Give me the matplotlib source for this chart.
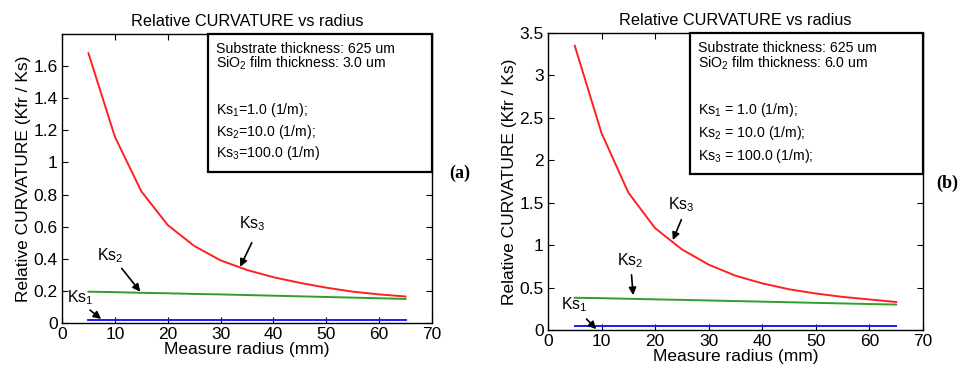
import matplotlib
matplotlib.use("Agg")
import matplotlib.pyplot as plt
from matplotlib.patches import Rectangle

plt.rcParams["font.family"] = ["Liberation Sans", "DejaVu Sans"]
plt.rcParams["mathtext.fontset"] = "custom"
plt.rcParams["mathtext.rm"] = "Liberation Sans"
plt.rcParams["mathtext.it"] = "Liberation Sans"
plt.rcParams["font.size"] = 10

# measure radius (mm)
radius = [5, 10, 15, 20, 25, 30, 35, 40, 45, 50, 55, 60, 65]

# panel (a): SiO2 film 3.0 um
ks3_a = [1.68, 1.16, 0.82, 0.61, 0.48, 0.39, 0.33, 0.285, 0.25, 0.22, 0.195, 0.178, 0.165]
ks2_a = [0.195, 0.192, 0.188, 0.185, 0.181, 0.178, 0.174, 0.170, 0.166, 0.162, 0.158, 0.154, 0.150]
ks1_a = [0.02] * 13

# panel (b): SiO2 film 6.0 um
ks3_b = [3.35, 2.32, 1.62, 1.20, 0.95, 0.77, 0.64, 0.55, 0.48, 0.43, 0.39, 0.36, 0.33]
ks2_b = [0.38, 0.375, 0.368, 0.361, 0.355, 0.348, 0.341, 0.334, 0.327, 0.320, 0.313, 0.306, 0.300]
ks1_b = [0.05] * 13

box_a = ["Substrate thickness: 625 um", "SiO$_2$ film thickness: 3.0 um",
         "Ks$_1$=1.0 (1/m);", "Ks$_2$=10.0 (1/m);", "Ks$_3$=100.0 (1/m)"]
box_b = ["Substrate thickness: 625 um", "SiO$_2$ film thickness: 6.0 um",
         "Ks$_1$ = 1.0 (1/m);", "Ks$_2$ = 10.0 (1/m);", "Ks$_3$ = 100.0 (1/m);"]

RED = "#ff2020"
GREEN = "#2f9e2f"
BLUE = "#1a1aff"

fig = plt.figure(figsize=(9.6, 3.75), dpi=100)
ax_a = fig.add_axes([0.0646, 0.1387, 0.3854, 0.7707])
ax_b = fig.add_axes([0.5708, 0.12, 0.3906, 0.792])


def draw_panel(ax, ks1, ks2, ks3, ymax, yticks, box_lines, box_x0, box_y0, line_ys, labels):
    ax.plot(radius, ks3, color=RED, lw=1.4)
    ax.plot(radius, ks2, color=GREEN, lw=1.4)
    ax.plot(radius, ks1, color=BLUE, lw=1.4)
    ax.set_xlim(0, 70)
    ax.set_ylim(0, ymax)
    ax.set_xticks(range(0, 71, 10))
    ax.set_yticks(yticks)
    ax.set_yticklabels([f"{t:g}" for t in yticks])
    ax.tick_params(direction="in", top=True, right=True, length=4, labelsize=12.5, pad=3)
    for s in ax.spines.values():
        s.set_linewidth(1.0)
    ax.set_title("Relative CURVATURE vs radius", fontsize=11.7, pad=6)
    ax.set_xlabel("Measure radius (mm)", fontsize=12.5, labelpad=0)
    ax.set_ylabel("Relative CURVATURE (Kfr / Ks)", fontsize=12.5, labelpad=2)

    ax.add_patch(Rectangle((box_x0, box_y0), 1 - box_x0, 1 - box_y0, transform=ax.transAxes,
                           fill=True, facecolor="white", edgecolor="black", lw=1.6,
                           clip_on=False, zorder=3))
    for txt, yy in zip(box_lines, line_ys):
        ax.text(box_x0 + 0.02, yy, txt, transform=ax.transAxes, fontsize=10.2,
                va="center", ha="left", zorder=4)

    for name, txt_xy, tail, head in labels:
        ax.text(txt_xy[0], txt_xy[1], name, fontsize=11.5, ha="left", va="center")
        ax.annotate("", xy=head, xytext=tail,
                    arrowprops=dict(arrowstyle="-|>", color="black", lw=1.2,
                                    mutation_scale=11, shrinkA=0, shrinkB=0))


# line positions in axes fraction (from top of axes)
ys_a = [1 - (49 - 34) / 289, 1 - (63 - 34) / 289, 1 - (110 - 34) / 289,
        1 - (132 - 34) / 289, 1 - (153 - 34) / 289]
ys_b = [1 - (48 - 33) / 297, 1 - (63 - 33) / 297, 1 - (110 - 33) / 297,
        1 - (133 - 33) / 297, 1 - (156 - 33) / 297]

labels_a = [
    ("Ks$_3$", (33.5, 0.62), (35.9, 0.50), (33.7, 0.35)),
    ("Ks$_2$", (6.6, 0.42), (11.3, 0.34), (14.8, 0.195)),
    ("Ks$_1$", (1.0, 0.16), (5.3, 0.08), (7.4, 0.025)),
]
labels_b = [
    ("Ks$_3$", (22.5, 1.48), (24.9, 1.30), (23.3, 1.06)),
    ("Ks$_2$", (12.8, 0.82), (15.6, 0.65), (15.9, 0.41)),
    ("Ks$_1$", (2.5, 0.30), (7.2, 0.13), (9.0, 0.01)),
]

draw_panel(ax_a, ks1_a, ks2_a, ks3_a, 1.8, [0, 0.2, 0.4, 0.6, 0.8, 1, 1.2, 1.4, 1.6],
           box_a, 0.395, 0.522, ys_a, labels_a)
draw_panel(ax_b, ks1_b, ks2_b, ks3_b, 3.5, [0, 0.5, 1, 1.5, 2, 2.5, 3, 3.5],
           box_b, 0.379, 0.525, ys_b, labels_b)

fig.text(460 / 960, 1 - 173 / 375, "(a)", fontsize=13, fontweight="bold",
         family="Liberation Serif", ha="center", va="center")
fig.text(958 / 960, 1 - 183 / 375, "(b)", fontsize=13, fontweight="bold",
         family="Liberation Serif", ha="right", va="center")

fig.savefig("out.png", dpi=100)
